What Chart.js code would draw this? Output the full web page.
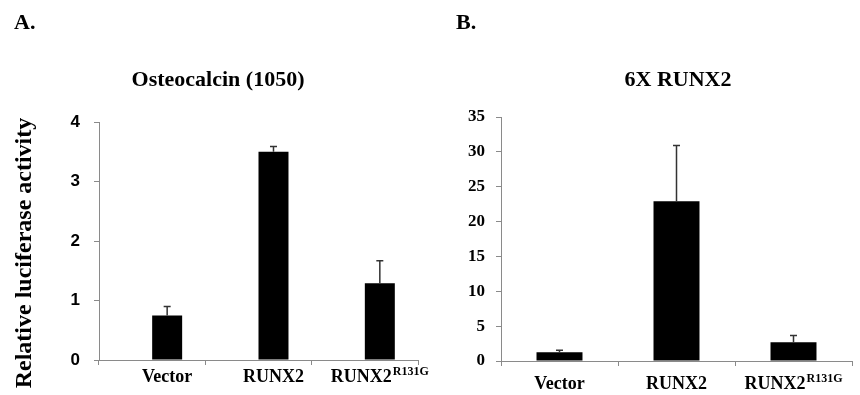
<!DOCTYPE html>
<html>
<head>
<meta charset="utf-8">
<script src="https://cdn.jsdelivr.net/npm/chart.js@4"></script>
<style>
  body { margin: 0; background: #fff; }
  #wrap { position: relative; width: 860px; height: 395px; overflow: hidden; }
  canvas { position: absolute; top: 0; }
  .txt { position: absolute; font-family: "Liberation Serif", serif; font-weight: bold; color: #000; line-height: 1; white-space: nowrap; }
</style>
</head>
<body>
<div id="wrap">
  <canvas id="chart-osteo" width="430" height="395" style="left:0"></canvas>
  <canvas id="chart-runx" width="430" height="395" style="left:430px"></canvas>
  <div class="txt" style="left:14px; top:11px; font-size:22px;">A.</div>
  <div class="txt" style="left:456px; top:11px; font-size:22px;">B.</div>
  <div class="txt" style="left:218px; top:68px; font-size:22px; transform:translateX(-50%);">Osteocalcin (1050)</div>
  <div class="txt" style="left:678px; top:68px; font-size:22px; transform:translateX(-50%);">6X RUNX2</div>
  <div class="txt" style="left:23px; top:253px; font-size:24px; transform:translate(-50%,-50%) rotate(-90deg);">Relative luciferase activity</div>
</div>
<script>
// categories (superscript part kept separately)
const categories = ['Vector', 'RUNX2', 'RUNX2'];
const superscripts = ['', '', 'R131G'];

// A. Osteocalcin (1050)
const osteoValues = [0.75, 3.5, 1.29];
const osteoErrors = [0.15, 0.09, 0.38];
const osteoMax = 4;
const osteoStep = 1;

// B. 6X RUNX2
const runxValues = [1.25, 22.9, 2.7];
const runxErrors = [0.28, 8.0, 0.95];
const runxMax = 35;
const runxStep = 5;

const AXIS_GRAY = '#8a8a8a';
const SERIF = '"Liberation Serif", "Times New Roman", serif';

const errorBarPlugin = {
    id: 'errbars',
    afterDatasetsDraw(chart, args, opts) {
        const ctx = chart.ctx;
        const yScale = chart.scales.y;
        const meta = chart.getDatasetMeta(opts.dataset);
        const values = chart.data.datasets[opts.dataset].data;
        ctx.save();
        ctx.strokeStyle = '#333';
        ctx.lineWidth = 1.5;
        meta.data.forEach((bar, i) => {
            const top = yScale.getPixelForValue(values[i] + opts.errors[i]);
            ctx.beginPath();
            ctx.moveTo(bar.x, bar.y);
            ctx.lineTo(bar.x, top);
            ctx.moveTo(bar.x - 3.5, top);
            ctx.lineTo(bar.x + 3.5, top);
            ctx.stroke();
        });
        ctx.restore();
    },
};

// category labels with a superscript suffix
const xLabelPlugin = {
    id: 'xlabels',
    afterDraw(chart, args, opts) {
        const ctx = chart.ctx;
        const xScale = chart.scales.x;
        const mainFont = 'bold 18px ' + SERIF;
        const supFont = 'bold 12px ' + SERIF;
        const baseline = xScale.top + opts.gap;
        ctx.save();
        ctx.fillStyle = '#000';
        ctx.textAlign = 'left';
        ctx.textBaseline = 'alphabetic';
        chart.data.labels.forEach((label, i) => {
            const sup = superscripts[i];
            ctx.font = mainFont;
            const w1 = ctx.measureText(label).width;
            ctx.font = supFont;
            const w2 = sup ? ctx.measureText(sup).width + 1 : 0;
            const x = xScale.getPixelForTick(i) + opts.shift - (w1 + w2) / 2;
            ctx.font = mainFont;
            ctx.fillText(label, x, baseline);
            if (sup) {
                ctx.font = supFont;
                ctx.fillText(sup, x + w1 + 1, baseline - 7);
            }
        });
        ctx.restore();
    },
};

function makePanel(canvasId, cfg) {
    return new Chart(document.getElementById(canvasId), {
        type: 'bar',
        data: {
            labels: categories,
            datasets: cfg.datasets,
        },
        options: {
            responsive: false,
            animation: false,
            events: [],
            categoryPercentage: cfg.categoryPercentage,
            barPercentage: cfg.barPercentage,
            layout: { padding: { top: cfg.top, right: cfg.right, left: 0, bottom: 0 } },
            plugins: {
                legend: { display: false },
                tooltip: { enabled: false },
                errbars: { dataset: cfg.datasets.length - 1, errors: cfg.errors },
                xlabels: { shift: cfg.labelShift, gap: cfg.labelGap },
            },
            scales: {
                x: {
                    afterFit: s => { s.height = cfg.xHeight; },
                    ticks: { display: false },
                    grid: { drawOnChartArea: false, drawTicks: true, tickLength: 5, color: AXIS_GRAY },
                    border: { color: AXIS_GRAY, width: 1 },
                },
                y: {
                    min: 0,
                    max: cfg.max,
                    afterFit: s => { s.width = cfg.yWidth; },
                    ticks: { stepSize: cfg.step, color: '#000', padding: cfg.tickPad, font: cfg.tickFont },
                    grid: { drawOnChartArea: false, drawTicks: true, tickLength: 5, color: AXIS_GRAY },
                    border: { color: AXIS_GRAY, width: 1 },
                },
            },
        },
        plugins: [errorBarPlugin, xLabelPlugin],
    });
}

makePanel('chart-osteo', {
    datasets: [
        { data: osteoValues.map(() => null), backgroundColor: '#000' },
        { data: osteoValues, backgroundColor: '#000' },
    ],
    errors: osteoErrors,
    max: osteoMax,
    step: osteoStep,
    categoryPercentage: 0.564,
    barPercentage: 1,
    top: 122,
    right: 12,
    yWidth: 99,
    xHeight: 35,
    tickPad: 14,
    tickFont: { family: '"Liberation Sans", Arial, sans-serif', weight: 'bold', size: 17 },
    labelShift: 15,
    labelGap: 22,
});

makePanel('chart-runx', {
    datasets: [
        { data: runxValues, backgroundColor: '#000' },
    ],
    errors: runxErrors,
    max: runxMax,
    step: runxStep,
    categoryPercentage: 1,
    barPercentage: 0.393,
    top: 117,
    right: 8,
    yWidth: 71,
    xHeight: 34,
    tickPad: 11,
    tickFont: { family: SERIF, weight: 'bold', size: 17 },
    labelShift: 0,
    labelGap: 28,
});
</script>
</body>
</html>
